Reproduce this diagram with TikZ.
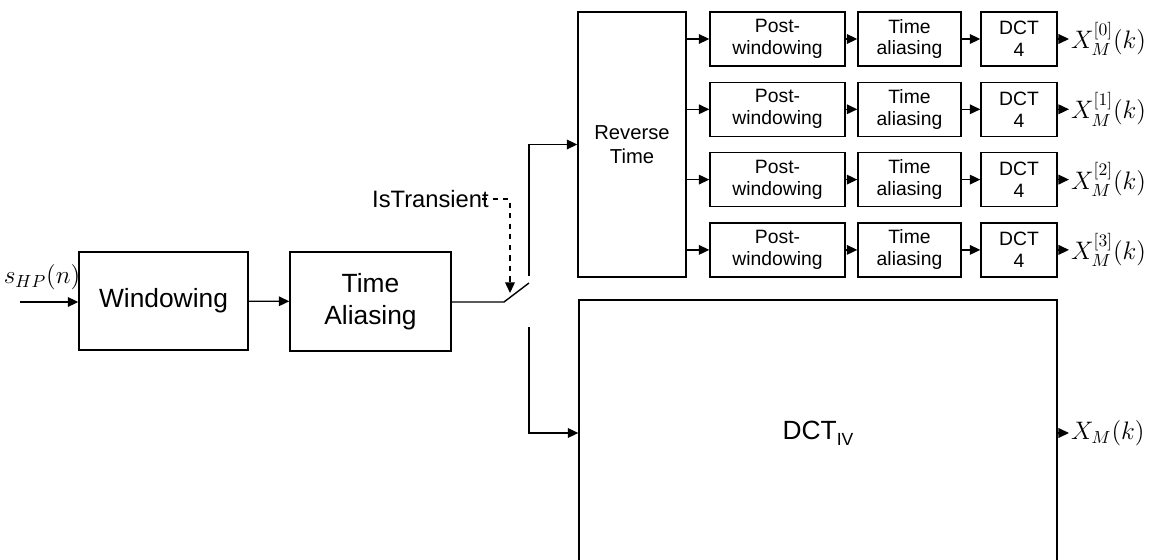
\documentclass[tikz,border=0pt]{standalone}
\usepackage{fontspec}
\setmainfont{Liberation Sans}
\usepackage{amsmath}
\usetikzlibrary{arrows.meta,positioning,calc}

\begin{document}
\begin{tikzpicture}[
  x=0.02cm, y=-0.02cm,
  bigbox/.style={draw, line width=0.8pt, align=center, font=\fontsize{15}{18}\selectfont},
  smallbox/.style={draw, line width=0.8pt, minimum height=1.08cm, align=center, font=\fontsize{11}{12.5}\selectfont, inner sep=1pt},
  sig/.style={font=\fontsize{14}{17}\selectfont, inner sep=1pt},
  flow/.style={line width=0.8pt, -{Triangle[length=6pt,width=5.5pt]}},
]
\useasboundingbox (0,0) rectangle (1155,560);

% ===================== Input chain =====================
\node[bigbox, minimum width=3.38cm, minimum height=1.96cm] (win) at (163.5,301) {Windowing};
\node[bigbox, minimum width=3.22cm, minimum height=1.98cm] (tal) at (370.5,301.5) {Time\\Aliasing};

\node[sig] (shp) at (42,277) {$s_{HP}(n)$};
\coordinate (in) at (20,302);
\draw[flow] (in) -- (in -| win.west);
\draw[flow] (win) -- (tal);

% ===================== Switch =====================
\coordinate (sw0) at (504,302);
\coordinate (sw1) at (529,283);
\coordinate (up) at (529,276);
\coordinate (dn) at (529,327);
\coordinate (swtip) at (510,293);
\draw[line width=0.8pt] (tal.east |- sw0) -- (sw0) -- (sw1);

\node[font=\fontsize{13.5}{16}\selectfont, anchor=east, inner sep=0pt] (trans) at (489,199) {IsTransient};
\draw[line width=0.6pt, dashed, -{Triangle[length=6pt,width=5.5pt]}] ([xshift=-4pt]trans.east) -| (swtip);

% ===================== Transient branch =====================
\node[bigbox, font=\fontsize{11.5}{14}\selectfont, minimum width=2.16cm, minimum height=5.3cm] (rev) at (632,144.5) {Reverse\\Time};
\draw[flow] (up) |- (rev.west);

\foreach \i in {0,1,2,3} {
  \pgfmathsetmacro{\yy}{39+70.3*\i}
  \node[smallbox, minimum width=2.7cm] (pw\i) at (777.5,\yy) {Post-\\windowing};
  \node[smallbox, minimum width=2.06cm] (al\i) at (909.5,\yy) {Time\\aliasing};
  \node[smallbox, minimum width=1.52cm] (dc\i) at (1019,\yy) {DCT\\4};
  \node[sig, anchor=west] (x\i) at (1069,\yy) {$X_M^{[\i]}(k)$};
  \draw[flow] (rev.east |- pw\i.west) -- (pw\i.west);
  \draw[flow] (pw\i) -- (al\i);
  \draw[flow] (al\i) -- (dc\i);
  \draw[flow] (dc\i) -- (x\i);
}

% ===================== Stationary branch =====================
\node[bigbox, minimum width=9.56cm, minimum height=5.32cm] (dct) at (818,433) {DCT\raisebox{-0.45ex}{\fontsize{10}{12}\selectfont IV}};
\draw[flow] (dn) |- (dct.west);
\node[sig, anchor=west] (xm) at (1069,433) {$X_M(k)$};
\draw[flow] (dct) -- (xm);

\end{tikzpicture}
\end{document}
